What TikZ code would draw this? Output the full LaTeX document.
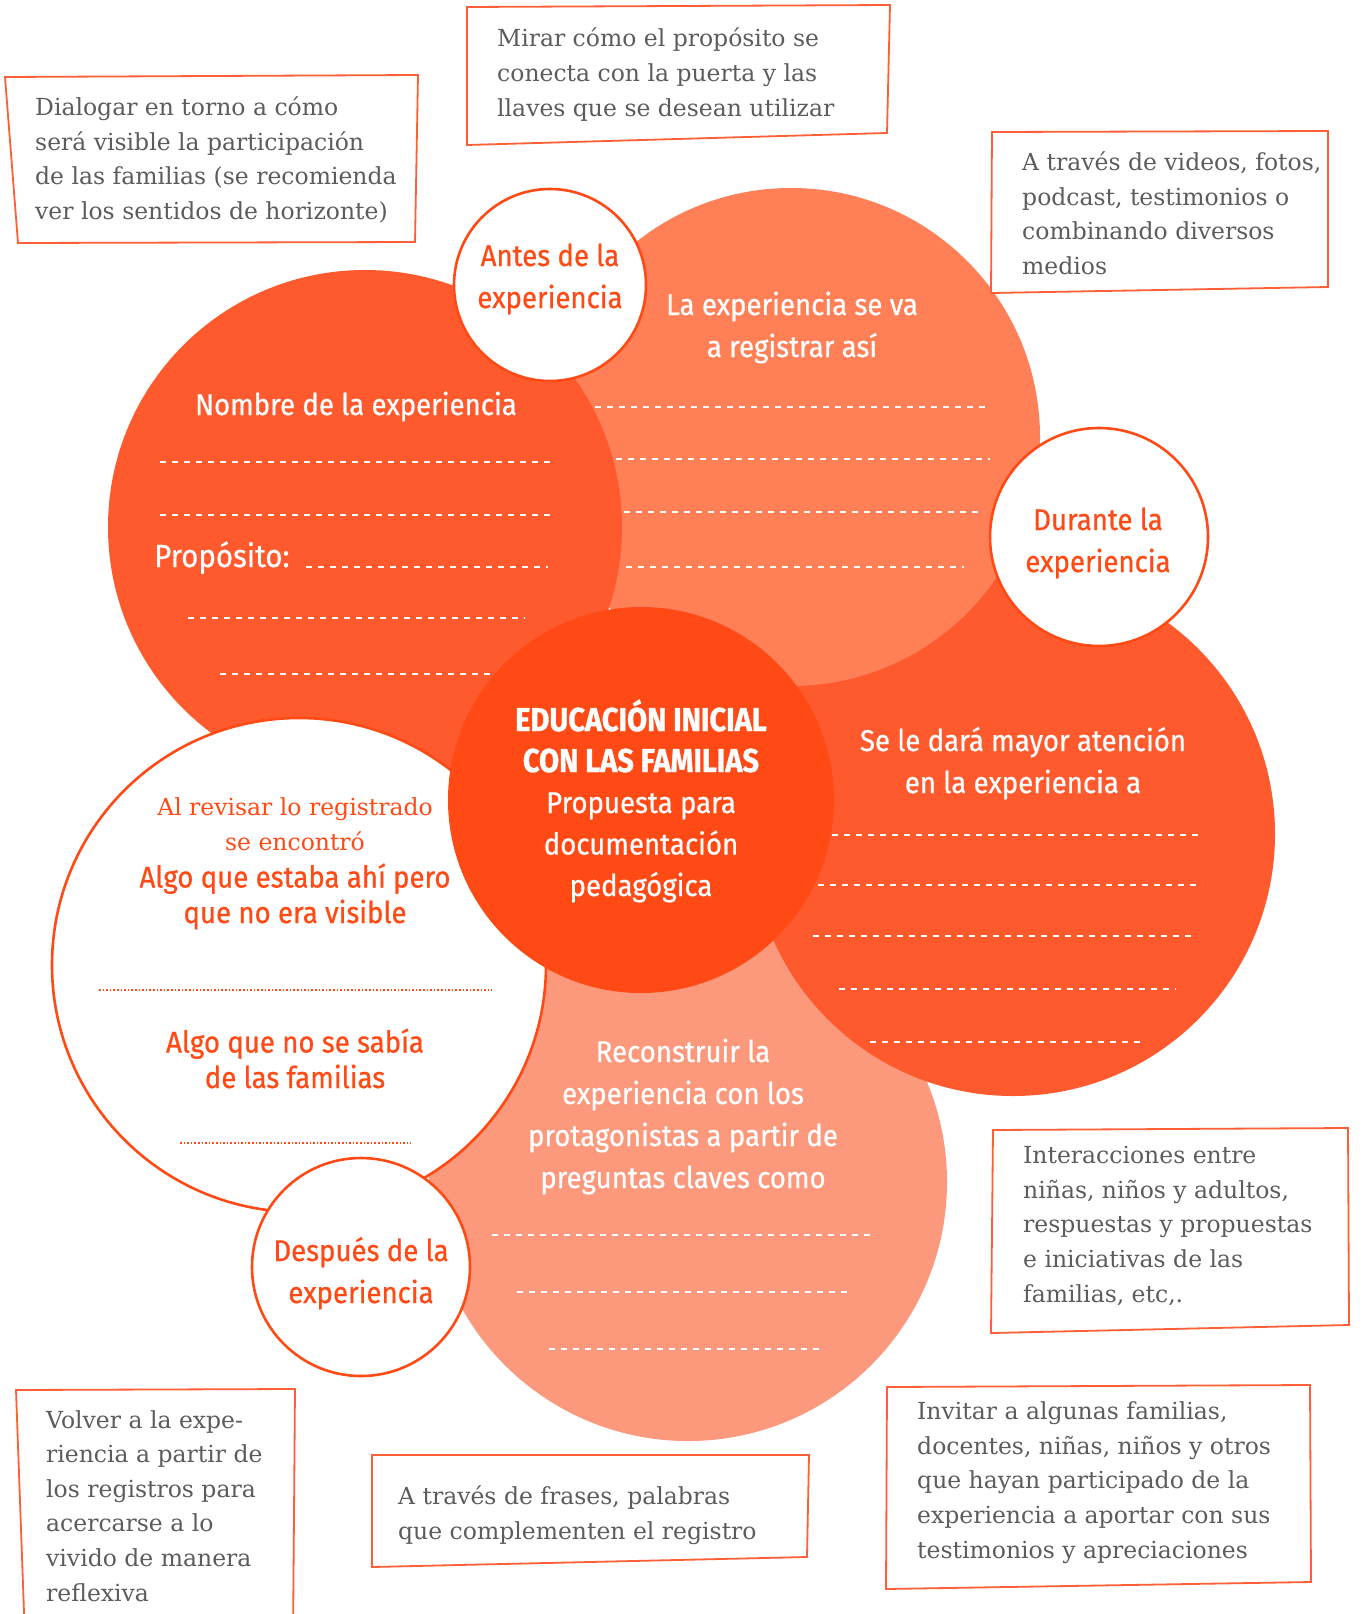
\documentclass[tikz,border=0pt]{standalone}
\usepackage{fontspec}
\setmainfont{DejaVu Serif}
\newfontfamily\roundsans[FakeStretch=0.92,FakeBold=0.6]{Fira Sans}
\newfontfamily\titlesans[FakeStretch=0.88,FakeBold=1.0]{Fira Sans}

\definecolor{discA}{RGB}{255,90,46}
\definecolor{discB}{RGB}{255,127,87}
\definecolor{discC}{RGB}{252,152,123}
\definecolor{hot}{RGB}{255,74,21}
\definecolor{memoline}{RGB}{255,95,55}
\definecolor{memogray}{RGB}{92,92,92}

% multi-line nodes are anchored at the baseline of their last line
\tikzset{
  dashrule/.style={white, line width=1.3pt, dash pattern=on 6pt off 6pt},
  dotrule/.style={hot, line width=1.2pt, dash pattern=on 1.6pt off 2pt},
  ringdisc/.style={fill=white, draw=hot, line width=2.6pt},
  memo/.style={draw=memoline, line width=1.8pt, fill=white, line join=miter},
  memotext/.style={anchor=base west, align=left, inner sep=0pt, text=memogray,
    font=\fontsize{23.5}{34.6}\selectfont},
  circtext/.style={anchor=base, align=center, inner sep=0pt,
    font=\roundsans\fontsize{30}{42}\selectfont},
  findtext/.style={circtext, text=hot, font=\roundsans\fontsize{30}{35.5}\selectfont},
  serifnote/.style={anchor=base, align=center, inner sep=0pt, text=hot,
    font=\fontsize{23.5}{35}\selectfont},
  titletext/.style={anchor=base, align=center, inner sep=0pt, text=white,
    font=\titlesans\bfseries\fontsize{33}{41}\selectfont},
}

\begin{document}
\begin{tikzpicture}[x=1pt,y=-1pt]
\useasboundingbox (0,0) rectangle (1361,1614);
\fill[white] (0,0) rectangle (1361,1614);

% lower disc: reconstruction
\fill[discC] (688,1182) circle[radius=259pt];
\foreach \yy/\xa/\xb in {1235/492/875,1292/517/852,1349/549/822}
  \draw[dashrule] (\xa,\yy) -- (\xb,\yy);

% right disc: attention
\fill[discA] (1013,834) circle[radius=262pt];
\foreach \yy/\xa/\xb in {835/832/1202,885/818/1202,936/813/1197,989/839/1176,1042/870/1145}
  \draw[dashrule] (\xa,\yy) -- (\xb,\yy);

% upper right disc: recording
\fill[discB] (791,437) circle[radius=249pt];
\foreach \yy/\xa/\xb in {407/595/990,459/616/990,512/624/984,567/626/964}
  \draw[dashrule] (\xa,\yy) -- (\xb,\yy);

% left disc: name and purpose
\fill[discA] (365,527) circle[radius=257pt];
\foreach \yy/\xa/\xb in {462/160/556,515/160/556,567/306/548,618/188/525,674/220/494}
  \draw[dashrule] (\xa,\yy) -- (\xb,\yy);

% white disc: review
\draw[ringdisc] (299,965) circle[radius=247pt];
\draw[dotrule] (99,990) -- (492,990);
\draw[dotrule] (180,1143) -- (411,1143);

% centre disc
\fill[hot] (641,800) circle[radius=193pt];

% stage discs
\draw[ringdisc] (550,285) circle[radius=96pt];
\draw[ringdisc] (1099,537) circle[radius=109pt];
\draw[ringdisc] (361,1267) circle[radius=109pt];

% texts inside the discs
\node[circtext, text=hot] (antes) at (550,308) {Antes de la\\experiencia};
\node[circtext, text=white] (registro) at (792,357) {La experiencia se va\\a registrar así};
\node[circtext, text=white] (nombre) at (356,415) {Nombre de la experiencia};
\node[circtext, text=white, anchor=base west, font=\roundsans\fontsize{32}{42}\selectfont]
  (proposito) at (154,567) {Propósito:};
\node[circtext, text=hot] (durante) at (1098,572) {Durante la\\experiencia};
\node[circtext, text=white] (atencion) at (1023,793) {Se le dará mayor atención\\en la experiencia a};
\node[circtext, text=white] (reconstruir) at (683,1188)
  {Reconstruir la\\experiencia con los\\protagonistas a partir de\\preguntas claves como};
\node[titletext] (titulo) at (641,772) {EDUCACIÓN INICIAL\\CON LAS FAMILIAS};
\node[circtext, text=white, font=\roundsans\fontsize{30}{41.5}\selectfont]
  (propuesta) at (641,896) {Propuesta para\\documentación\\pedagógica};
\node[serifnote] (revisar) at (295,850) {Al revisar lo registrado\\se encontró};
\node[findtext] (visible) at (295,923) {Algo que estaba ahí pero\\que no era visible};
\node[findtext] (nosabia) at (295,1088) {Algo que no se sabía\\de las familias};
\node[circtext, text=hot] (despues) at (361,1303) {Después de la\\experiencia};

% notes
\draw[memo] (5,77) -- (418,75) -- (415,242) -- (18,243) -- cycle;
\node[memotext] (dialogar) at (35,219.5)
  {Dialogar en torno a cómo\\será visible la participación\\de las familias (se recomienda\\ver los sentidos de horizonte)};

\draw[memo] (467,7) -- (890,5) -- (887,133) -- (467,145) -- cycle;
\node[memotext] (mirar) at (497,116)
  {Mirar cómo el propósito se\\conecta con la puerta y las\\llaves que se desean utilizar};

\draw[memo] (992,132) -- (1328,131) -- (1328,287) -- (991,293) -- cycle;
\node[memotext] (medios) at (1022,274.5)
  {A través de videos, fotos,\\podcast, testimonios o\\combinando diversos\\medios};

\draw[memo] (993,1130) -- (1348,1128) -- (1349,1325) -- (991,1333) -- cycle;
\node[memotext] (interacciones) at (1023,1302)
  {Interacciones entre\\niñas, niños y adultos,\\respuestas y propuestas\\e iniciativas de las\\familias, etc,.};

\draw[memo] (25,1640) -- (16,1390) -- (295,1389) -- (293,1640);
\node[memotext] (volver) at (46,1601)
  {Volver a la expe-\\riencia a partir de\\los registros para\\acercarse a lo\\vivido de manera\\reflexiva};

\draw[memo] (372,1455) -- (809,1455) -- (807,1557) -- (372,1567) -- cycle;
\node[memotext] (frases) at (398,1539.5)
  {A través de frases, palabras\\que complementen el registro};

\draw[memo] (887,1387) -- (1310,1385) -- (1311,1582) -- (886,1589) -- cycle;
\node[memotext] (invitar) at (917,1558)
  {Invitar a algunas familias,\\docentes, niñas, niños y otros\\que hayan participado de la\\experiencia a aportar con sus\\testimonios y apreciaciones};
\end{tikzpicture}
\end{document}
